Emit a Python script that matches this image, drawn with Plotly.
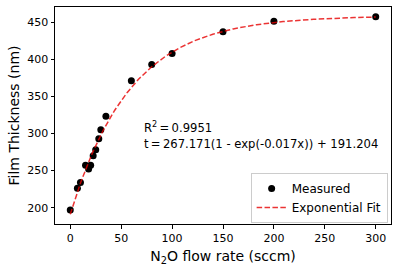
import numpy as np
import plotly.graph_objects as go

flow = [0, 7, 10, 15, 18, 20, 22.5, 25, 28, 30, 35, 60, 80, 100, 150, 200, 300]
thickness = [197, 226, 234, 257, 252, 257, 270, 278, 293, 305, 323, 371, 393, 407.5, 437, 451, 457]
fit_A, fit_k, fit_c = 267.171, 0.017, 191.204
r2 = 0.9951

xf = np.linspace(0, 300, 301)
yf = fit_A * (1 - np.exp(-fit_k * xf)) + fit_c

fig = go.Figure()
fig.add_trace(go.Scatter(x=flow, y=thickness, mode="markers", name="Measured",
                         marker=dict(color="black", size=7)))
fig.add_trace(go.Scatter(x=xf, y=yf, mode="lines", name="Exponential Fit",
                         line=dict(color="rgba(230,0,0,0.8)", width=1.5, dash="5.5px,2.4px")))

ts = "\u2009"
fig.add_annotation(x=70, y=308, xref="x", yref="y", xanchor="left", yanchor="middle",
                   text=f"R<sup>2</sup>{ts}={ts}{r2}", showarrow=False,
                   font=dict(family="DejaVu Sans", size=11.6, color="black"))
fig.add_annotation(x=70, y=286, xref="x", yref="y", xanchor="left", yanchor="middle",
                   text=f"t{ts}={ts}{fit_A}(1 - exp(-{fit_k}x)) + {fit_c}", showarrow=False,
                   font=dict(family="DejaVu Sans", size=11.6, color="black"))

axis_common = dict(showline=True, linecolor="black", linewidth=1, mirror=True,
                   ticks="outside", ticklen=3.5, tickwidth=1, tickcolor="black",
                   showgrid=False, zeroline=False, automargin=False,
                   tickfont=dict(family="DejaVu Sans", size=11, color="black"))
fig.update_xaxes(range=[-15, 315], tickvals=[0, 50, 100, 150, 200, 250, 300],
                 title=dict(text="N<sub>2</sub>O flow rate (sccm)", standoff=7,
                            font=dict(family="DejaVu Sans", size=14, color="black")),
                 **axis_common)
fig.update_yaxes(range=[178, 470.3], tickvals=[200, 250, 300, 350, 400, 450],
                 title=dict(text="Film Thickness (nm)", standoff=4,
                            font=dict(family="DejaVu Sans", size=14, color="black")),
                 **axis_common)
fig.update_layout(width=397, height=273, plot_bgcolor="white", paper_bgcolor="white",
                  margin=dict(l=55, r=6, t=7, b=49),
                  legend=dict(x=0.99, y=0.005, xanchor="right", yanchor="bottom",
                              bgcolor="white", bordercolor="#cccccc", borderwidth=1,
                              font=dict(family="DejaVu Sans", size=12, color="black"),
                              tracegroupgap=0, itemwidth=30))
fig.write_html("out.html", config={"displayModeBar": False},
               post_script="document.body.style.margin='0';")
